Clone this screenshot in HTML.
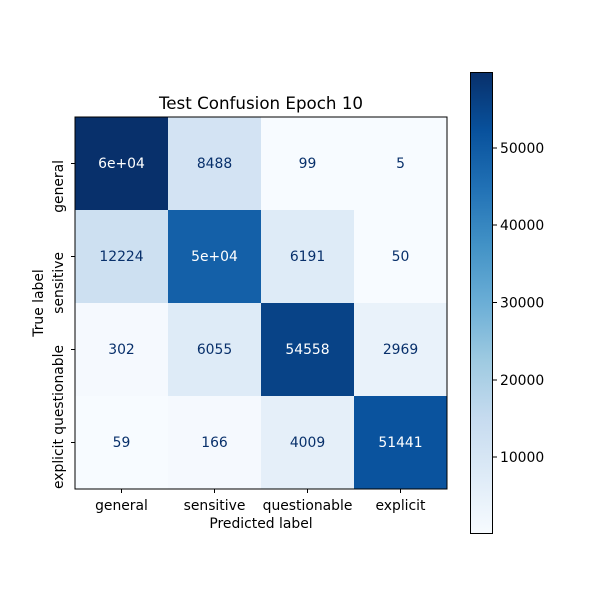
<!DOCTYPE html>
<html><head><style>body{margin:0;background:#fff}svg{display:block}text{font-family:"DejaVu Sans","Liberation Sans",sans-serif}</style></head>
<body>
<svg width="600" height="600" viewBox="0 0 600 600" xmlns="http://www.w3.org/2000/svg">
<defs>
<linearGradient id="b" x1="0" y1="1" x2="0" y2="0">
<stop offset="0" stop-color="#f7fbff"/><stop offset=".125" stop-color="#deebf7"/><stop offset=".25" stop-color="#c6dbef"/><stop offset=".375" stop-color="#9ecae1"/><stop offset=".5" stop-color="#6baed6"/><stop offset=".625" stop-color="#4292c6"/><stop offset=".75" stop-color="#2171b5"/><stop offset=".875" stop-color="#08519c"/><stop offset="1" stop-color="#08306b"/>
</linearGradient>
</defs>
<text x="261" y="109" font-size="16.7" text-anchor="middle">Test Confusion Epoch 10</text>
<g>
<rect x="75" y="117" width="93" height="93" fill="#08306b"/>
<rect x="168" y="117" width="93" height="93" fill="#d3e3f3"/>
<rect x="261" y="117" width="93" height="93" fill="#f7fbff"/>
<rect x="354" y="117" width="93" height="93" fill="#f7fbff"/>
<rect x="75" y="210" width="93" height="93" fill="#cde0f1"/>
<rect x="168" y="210" width="93" height="93" fill="#1460a8"/>
<rect x="261" y="210" width="93" height="93" fill="#deebf7"/>
<rect x="354" y="210" width="93" height="93" fill="#f7fbff"/>
<rect x="75" y="303" width="93" height="93" fill="#f5f9fe"/>
<rect x="168" y="303" width="93" height="93" fill="#deebf7"/>
<rect x="261" y="303" width="93" height="93" fill="#084387"/>
<rect x="354" y="303" width="93" height="93" fill="#e9f2fa"/>
<rect x="75" y="396" width="93" height="93" fill="#f7fbff"/>
<rect x="168" y="396" width="93" height="93" fill="#f5f9fe"/>
<rect x="261" y="396" width="93" height="93" fill="#e5eff9"/>
<rect x="354" y="396" width="93" height="93" fill="#0a539e"/>
</g>
<g font-size="13.9" text-anchor="middle" fill="#08306b">
<text x="121.5" y="168" fill="#fff">6e+04</text><text x="214.5" y="168">8488</text><text x="307.5" y="168">99</text><text x="400.5" y="168">5</text>
<text x="121.5" y="261">12224</text><text x="214.5" y="261" fill="#fff">5e+04</text><text x="307.5" y="261">6191</text><text x="400.5" y="261">50</text>
<text x="121.5" y="354">302</text><text x="214.5" y="354">6055</text><text x="307.5" y="354" fill="#fff">54558</text><text x="400.5" y="354">2969</text>
<text x="121.5" y="447">59</text><text x="214.5" y="447">166</text><text x="307.5" y="447">4009</text><text x="400.5" y="447" fill="#fff">51441</text>
</g>
<rect x="75" y="117" width="372" height="372" fill="none" stroke="#000" stroke-width="1"/>
<g stroke="#000">
<line x1="121.5" y1="489" x2="121.5" y2="493"/><line x1="214.5" y1="489" x2="214.5" y2="493"/><line x1="307.5" y1="489" x2="307.5" y2="493"/><line x1="400.5" y1="489" x2="400.5" y2="493"/>
<line x1="71" y1="163.5" x2="75" y2="163.5"/><line x1="71" y1="256.5" x2="75" y2="256.5"/><line x1="71" y1="349.5" x2="75" y2="349.5"/><line x1="71" y1="442.5" x2="75" y2="442.5"/>
</g>
<g font-size="13.9" text-anchor="middle">
<text x="121.5" y="510">general</text><text x="214.5" y="510">sensitive</text><text x="307.5" y="510">questionable</text><text x="400.5" y="510">explicit</text>
<text x="261" y="528">Predicted label</text>
<text transform="translate(43,303) rotate(-90)">True label</text>
</g>
<g font-size="13.9" text-anchor="end">
<text transform="translate(63,160) rotate(-90)">general</text>
<text transform="translate(63,252) rotate(-90)">sensitive</text>
<text transform="translate(63,345) rotate(-90)">questionable</text>
<text transform="translate(63,439) rotate(-90)">explicit</text>
</g>
<rect x="470.5" y="72.5" width="22" height="461" fill="url(#b)" stroke="#000" stroke-width="1"/>
<g stroke="#000">
<line x1="493" y1="148" x2="497" y2="148"/><line x1="493" y1="225" x2="497" y2="225"/><line x1="493" y1="302.5" x2="497" y2="302.5"/><line x1="493" y1="380" x2="497" y2="380"/><line x1="493" y1="457" x2="497" y2="457"/>
</g>
<g font-size="13.9">
<text x="500" y="153">50000</text><text x="500" y="230">40000</text><text x="500" y="307.5">30000</text><text x="500" y="385">20000</text><text x="500" y="462">10000</text>
</g>
</svg>
</body></html>
